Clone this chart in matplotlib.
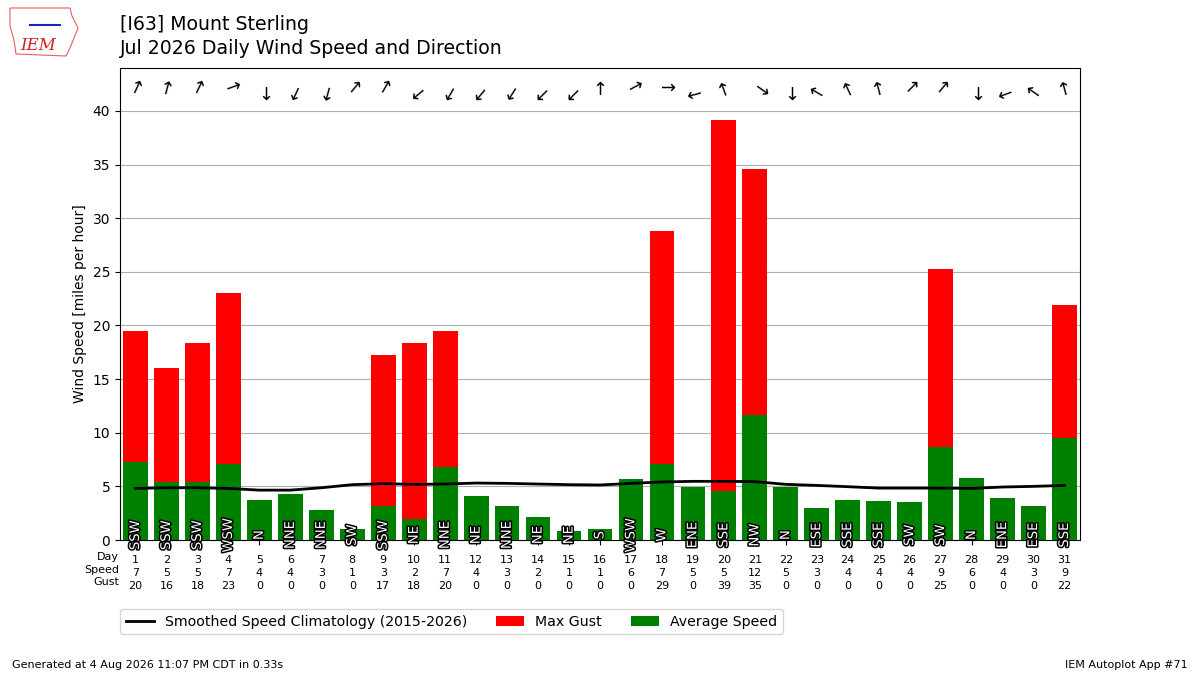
import numpy as np
import matplotlib
matplotlib.use("Agg")
import matplotlib.pyplot as plt
import matplotlib.patheffects as PathEffects
from matplotlib.patches import Polygon

# daily values (July 2026, station I63)
days = list(range(1, 32))
avg_speed = [7.26, 5.38, 5.38, 7.08, 3.71, 4.25, 2.83, 1.04, 3.21, 1.92,
             6.82, 4.06, 3.21, 2.17, 0.85, 1.04, 5.66, 7.08, 4.94, 4.56,
             11.68, 4.94, 3.02, 3.77, 3.68, 3.58, 8.71, 5.75, 3.96, 3.21,
             9.47]
max_gust = [19.53, 16.07, 18.41, 22.99, 0, 0, 0, 0, 17.29, 18.41,
            19.53, 0, 0, 0, 0, 0, 0, 28.8, 0, 39.16,
            34.6, 0, 0, 0, 0, 0, 25.3, 0, 0, 0,
            21.87]
drct = [205, 195, 205, 250, 0, 25, 15, 220, 210, 50,
        30, 40, 32, 45, 45, 180, 242, 270, 75, 160,
        305, 0, 120, 155, 165, 225, 220, 0, 70, 125,
        165]
drct_txt = ["SSW", "SSW", "SSW", "WSW", "N", "NNE", "NNE", "SW", "SSW", "NE",
            "NNE", "NE", "NNE", "NE", "NE", "S", "WSW", "W", "ENE", "SSE",
            "NW", "N", "ESE", "SSE", "SSE", "SW", "SW", "N", "ENE", "ESE",
            "SSE"]
climo = [4.81, 4.87, 4.87, 4.81, 4.65, 4.65, 4.87, 5.16, 5.25, 5.19,
         5.22, 5.31, 5.28, 5.22, 5.16, 5.13, 5.28, 5.41, 5.47, 5.47,
         5.44, 5.19, 5.09, 4.97, 4.84, 4.84, 4.84, 4.81, 4.94, 5.0,
         5.09]

fig = plt.figure(figsize=(12, 6.75), dpi=100)
ax = fig.add_axes([0.1, 0.2, 0.8, 0.7])

ax.bar(days, max_gust, width=0.8, color="r", label="Max Gust", zorder=2)
ax.bar(days, avg_speed, width=0.8, color="g", label="Average Speed", zorder=2)
ax.plot(days, climo, color="k", lw=2, zorder=3,
        label="Smoothed Speed Climatology (2015-2026)")

ymax = max(max_gust) * 1.125
ax.set_ylim(0, ymax)
ax.set_xlim(0.5, 31.5)

# wind direction: text label at the bottom, arrow at the top
for d, deg, txt in zip(days, drct, drct_txt):
    t = ax.text(d, 0.45, txt, rotation=90, ha="center", va="center",
                color="white", fontsize=9.5, zorder=4)
    t.set_path_effects([PathEffects.withStroke(linewidth=2.2, foreground="k")])
    ax.text(d, ymax * 0.953, "\u2191", rotation=180 - deg, ha="center",
            va="center", fontsize=13, zorder=4)

ax.set_xticks(days)
ax.set_xticklabels(
    [f"{d}\n{round(s):.0f}\n{round(g):.0f}" for d, s, g in zip(days, avg_speed, max_gust)],
    fontsize=8, linespacing=1.35)
ax.tick_params(axis="x", pad=7.5)
ax.text(-0.0008, -0.0248, "Day\nSpeed\nGust", transform=ax.transAxes,
        ha="right", va="top", fontsize=8, linespacing=1.35)
ax.set_yticks(range(0, 45, 5))
ax.yaxis.grid(True, color="#b0b0b0", lw=0.8)
ax.set_axisbelow(True)
ax.set_ylabel("Wind Speed [miles per hour]")

ax.legend(loc="upper left", bbox_to_anchor=(-0.0075, -0.131), ncol=3, fontsize=10.2)

fig.text(0.1, 1 - 15 / 675, "[I63] Mount Sterling", fontsize=13.6,
         ha="left", va="top")
fig.text(0.1, 1 - 39 / 675, "Jul 2026 Daily Wind Speed and Direction",
         fontsize=13.6, ha="left", va="top")
fig.text(0.01, 0.01, "Generated at 4 Aug 2026 11:07 PM CDT in 0.33s", fontsize=8)
fig.text(0.99, 0.01, "IEM Autoplot App #71", fontsize=8, ha="right")

# rough stand-in for the IEM logo
iowa = [(10, 8), (70, 8), (72, 16), (78, 28), (74, 38), (70, 48),
        (66, 56), (16, 54), (14, 40), (10, 26)]
iowa = [(x / 1200, 1 - y / 675) for x, y in iowa]
fig.patches.append(Polygon(iowa, closed=True, fill=False, edgecolor="#e06060",
                           lw=0.8, transform=fig.transFigure, figure=fig))
fig.lines.append(plt.Line2D([30 / 1200, 60 / 1200], [1 - 25 / 675, 1 - 25 / 675],
                            color="#2020c0", lw=1.5, transform=fig.transFigure))
fig.text(38 / 1200, 1 - 45 / 675, "IEM", color="#d02020", fontsize=12,
         family="DejaVu Serif", style="italic", ha="center", va="center")

fig.savefig("out.png")
